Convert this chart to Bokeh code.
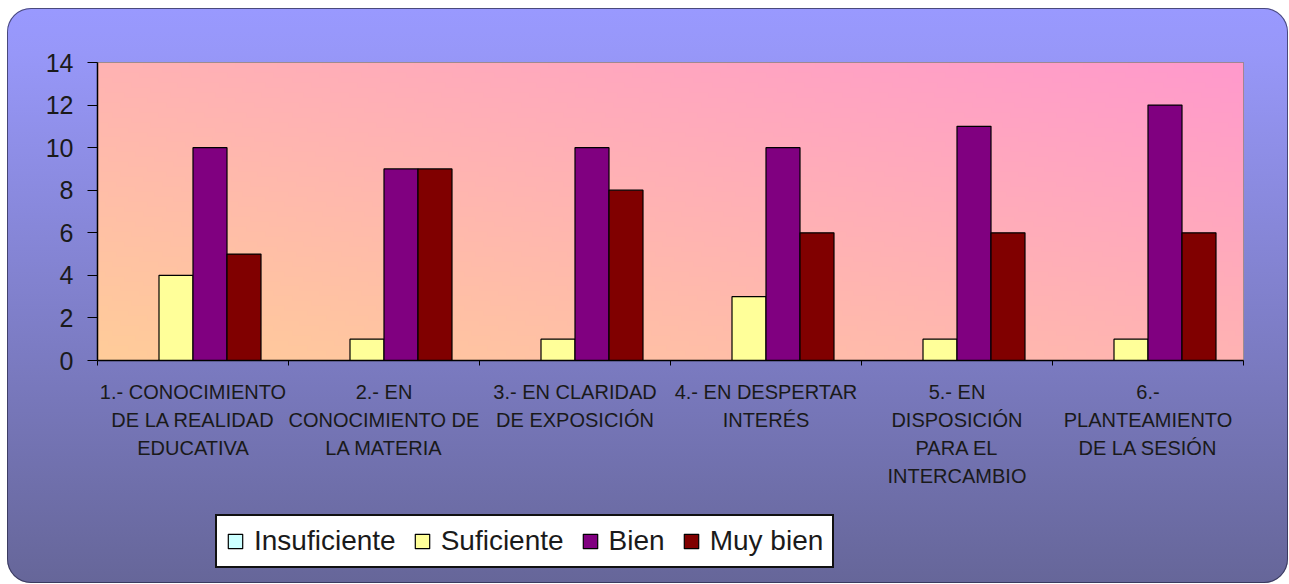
import numpy as np
from bokeh.plotting import figure
from bokeh.layouts import column
from bokeh.models import Range1d, FixedTicker, Legend, LegendItem, ColumnDataSource
from bokeh.embed import file_html
from bokeh.resources import INLINE

# ---------------- data ----------------
categories = [
    "1.- CONOCIMIENTO\nDE LA REALIDAD\nEDUCATIVA",
    "2.- EN\nCONOCIMIENTO DE\nLA MATERIA",
    "3.- EN CLARIDAD\nDE EXPOSICIÓN",
    "4.- EN DESPERTAR\nINTERÉS",
    "5.- EN\nDISPOSICIÓN\nPARA EL\nINTERCAMBIO",
    "6.-\nPLANTEAMIENTO\nDE LA SESIÓN",
]
series_names = ["Insuficiente", "Suficiente", "Bien", "Muy bien"]
insuficiente = [0, 0, 0, 0, 0, 0]
suficiente = [4, 1, 1, 3, 1, 1]
bien = [10, 9, 10, 10, 11, 12]
muy_bien = [5, 9, 8, 6, 6, 6]
y_ticks = [0, 2, 4, 6, 8, 10, 12, 14]
colors = ["#CCFFFF", "#FFFF99", "#800080", "#800000"]

series_values = [insuficiente, suficiente, bien, muy_bien]
n_cat = len(categories)
centers = np.arange(n_cat) + 0.5
bar_w = 0.178
offsets = [-1.5 * bar_w, -0.5 * bar_w, 0.5 * bar_w, 1.5 * bar_w]

FONT = "Liberation Sans"
TOTAL_W = 1281

p = figure(
    frame_width=1146, frame_height=298,
    min_border_left=90, min_border_top=54, min_border_right=45, min_border_bottom=148,
    x_range=Range1d(0, n_cat), y_range=Range1d(0, 14),
    output_backend="svg", toolbar_location=None,
    border_fill_alpha=0, background_fill_alpha=0,
)

# plot-area diagonal gradient (peach bottom-left -> pink top-right)
ny, nx = 60, 300
u = np.linspace(0, 1, nx)[None, :]
v = np.linspace(0, 1, ny)[:, None]
t = ((u + v) / 2.0)[..., None]
tan = np.array([255, 204, 153], dtype=float)
pink = np.array([255, 153, 204], dtype=float)
rgb = tan * (1 - t) + pink * t
img = np.empty((ny, nx), dtype=np.uint32)
view = img.view(dtype=np.uint8).reshape((ny, nx, 4))
view[..., :3] = np.round(rgb).astype(np.uint8)
view[..., 3] = 255
p.image_rgba(image=[img], x=0, y=0, dw=n_cat, dh=14)

sources = []
for name, vals, off, col in zip(series_names, series_values, offsets, colors):
    src = ColumnDataSource(dict(x=centers + off, top=vals))
    sources.append(src)
    p.vbar(x="x", top="top", width=bar_w, bottom=0, source=src,
           fill_color=col, line_color="black", line_width=1.2)

p.grid.visible = False
p.outline_line_color = "#808080"
p.outline_line_width = 1

# x axis
xa = p.xaxis[0]
xa.ticker = FixedTicker(ticks=list(centers), minor_ticks=list(range(n_cat + 1)))
xa.major_label_overrides = {float(c): lab for c, lab in zip(centers, categories)}
xa.major_tick_line_color = None
xa.major_tick_out = 0
xa.major_tick_in = 0
xa.minor_tick_out = 5
xa.minor_tick_in = 0
xa.minor_tick_line_color = "black"
xa.axis_line_color = "black"
xa.axis_line_width = 1.5
xa.major_label_text_font = FONT
xa.major_label_text_font_size = "20px"
xa.major_label_text_line_height = 1.28
xa.major_label_text_color = "#1a1a1a"
xa.major_label_standoff = 15

# y axis
ya = p.yaxis[0]
ya.ticker = FixedTicker(ticks=y_ticks)
ya.major_tick_out = 10
ya.major_tick_in = 0
ya.minor_tick_line_color = None
ya.major_tick_line_color = "black"
ya.axis_line_color = "black"
ya.axis_line_width = 1.5
ya.major_label_text_font = FONT
ya.major_label_text_font_size = "25px"
ya.major_label_text_color = "#1a1a1a"
ya.major_label_standoff = 14

# legend strip: a second figure whose view window lies outside the data,
# so its bars (same sources, same colours) only feed the legend swatches
lg = figure(
    width=TOTAL_W, height=75, min_border=0,
    x_range=Range1d(0, n_cat), y_range=Range1d(100, 101),
    x_axis_type=None, y_axis_type=None,
    output_backend="svg", toolbar_location=None,
    border_fill_alpha=0, background_fill_alpha=0,
)
lg.grid.visible = False
lg.outline_line_color = None
items = []
for name, src, col in zip(series_names, sources, colors):
    r = lg.vbar(x="x", top="top", width=bar_w, bottom=0, source=src,
                fill_color=col, line_color="black", line_width=1.2)
    items.append(LegendItem(label=name, renderers=[r]))

legend = Legend(
    items=items,
    orientation="horizontal",
    location=(118, 15),
    label_text_font=FONT,
    label_text_font_size="28px",
    label_text_color="#1a1a1a",
    glyph_width=18, glyph_height=18,
    label_standoff=10, spacing=17, padding=9, margin=0,
    border_line_color="#111111", border_line_width=2, border_line_alpha=1.0,
    background_fill_color="white", background_fill_alpha=1,
)
lg.add_layout(legend, "center")

layout = column(
    p, lg, spacing=0,
    styles={
        "margin-left": "7px",
        "margin-top": "8px",
        "background": "linear-gradient(to bottom, #9999FF 0%, #9797F8 8%, #666699 100%)",
        "border-radius": "24px",
        "box-shadow": "inset 0 0 0 1px rgba(40,40,70,0.7)",
    },
)

open("out.html", "w").write(file_html(layout, INLINE))
